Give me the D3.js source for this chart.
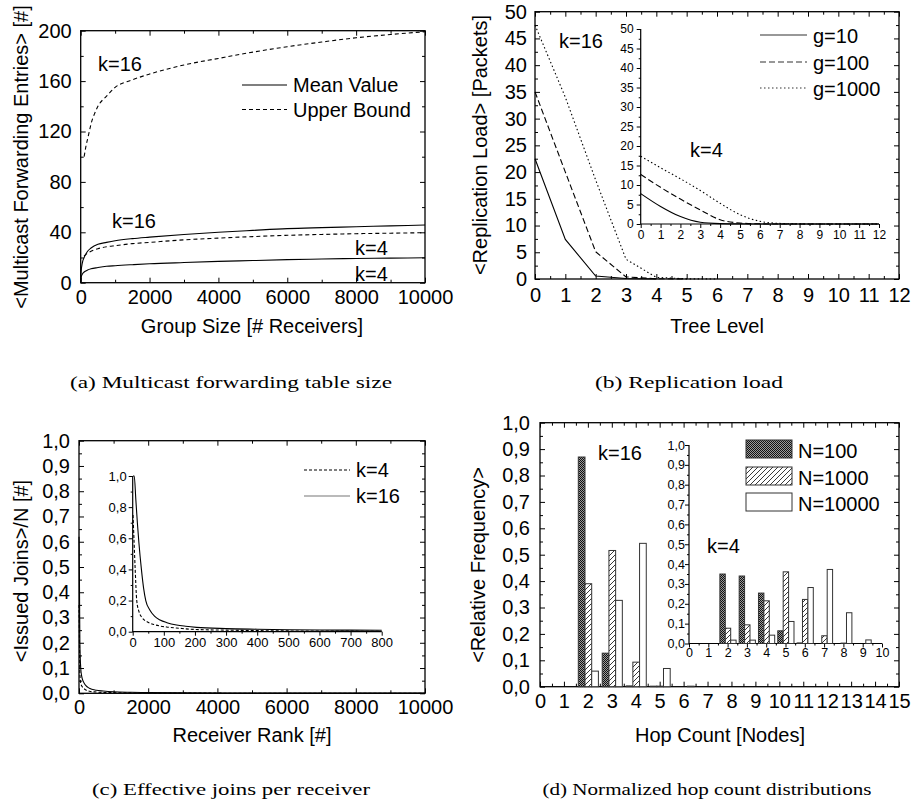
<html>
<head>
<meta charset="utf-8">
<script src="https://d3js.org/d3.v7.min.js"></script>
<style>
body { margin: 0; background: #fff; }
text { font-family: "Liberation Sans", Arial, sans-serif; fill: #000; }
.cap { font-family: "Liberation Serif", "Times New Roman", serif; }
</style>
</head>
<body>
<svg id="fig" width="913" height="804"></svg>
<script>
// ---- (a) multicast forwarding table size ----
var groupSize = [1, 10, 50, 100, 200, 300, 500, 750, 1000, 1500, 2000, 3000, 4000, 5000, 6000, 7000, 8000, 9000, 10000];
var meanK16 = [1, 8, 16, 20, 25, 27.5, 30.5, 32, 33.3, 35, 36.2, 38.3, 40, 41.5, 42.9, 43.7, 44.4, 45.1, 45.8];
var meanK4 = [0.5, 4, 7, 8.5, 10, 11, 12, 13, 13.5, 14.3, 15, 16, 16.9, 17.6, 18.3, 18.8, 19.2, 19.5, 19.8];
var boundSizeK16 = [100, 150, 200, 250, 300, 400, 500, 750, 1000, 1500, 2000, 3000, 4000, 5000, 6000, 7000, 8000, 9000, 10000];
var boundK16 = [100, 108, 114, 120, 126, 134, 140, 148, 155, 161, 165.6, 172.8, 178, 183, 187.3, 191, 194.4, 197, 199.2];
var boundSizeK4 = [100, 150, 200, 300, 500, 750, 1000, 1500, 2000, 3000, 4000, 5000, 6000, 7000, 8000, 9000, 10000];
var boundK4 = [21, 22.5, 23.5, 25, 27, 28.5, 29.4, 31, 32, 34, 35.4, 36.6, 37.6, 38.3, 38.9, 39.3, 39.7];

// ---- (b) replication load ----
var treeLevel = [0, 1, 2, 3, 4, 5, 6, 7, 8, 9, 10, 11, 12];
var loadG10 = [22.5, 7.4, 0.56, 0.1, 0.02];
var loadG100 = [35, 20, 5.1, 0.4, 0.05, 0.01];
var loadG1000 = [47.5, 34, 18.5, 3.7, 0.3, 0.03, 0.01];
var insetG10 = [7.8, 4.5, 1.9, 0.45, 0.1, 0.02, 0, 0, 0, 0, 0, 0, 0];
var insetG100 = [12.7, 9.4, 6.4, 3.6, 1.1, 0.25, 0.05, 0, 0, 0, 0, 0, 0];
var insetG1000 = [17.4, 14.4, 11.6, 8.6, 5.3, 2.4, 0.7, 0.15, 0.03, 0, 0, 0, 0];

// ---- (c) effective joins per receiver ----
var rankMain = [1, 10, 25, 50, 75, 100, 150, 200, 300, 500, 700, 1000, 1500, 2000, 3000, 5000, 7000, 10000];
var joinsK16 = [0.62, 0.5, 0.2, 0.1, 0.07, 0.055, 0.04, 0.03, 0.02, 0.012, 0.009, 0.006, 0.004, 0.003, 0.002, 0.001, 0.0008, 0.0005];
var joinsK4 = [0.35, 0.25, 0.08, 0.04, 0.03, 0.025, 0.018, 0.013, 0.008, 0.005, 0.0035, 0.0025, 0.0015, 0.001, 0.0007, 0.0004, 0.0003, 0.0002];
var rankInK16 = [1, 5, 10, 15, 20, 28, 35, 42, 55, 70, 88, 110, 141, 170, 205, 300, 400, 500, 600, 700, 800];
var insetK16 = [1.0, 1.0, 0.85, 0.7, 0.57, 0.4, 0.28, 0.2, 0.14, 0.1, 0.075, 0.058, 0.043, 0.035, 0.028, 0.02, 0.016, 0.013, 0.011, 0.01, 0.009];
var rankInK4 = [1, 4, 8, 13, 20, 30, 45, 70, 109, 150, 195, 300, 400, 500, 600, 700, 800];
var insetK4 = [0.75, 0.6, 0.4, 0.2, 0.13, 0.09, 0.065, 0.045, 0.03, 0.022, 0.015, 0.01, 0.007, 0.005, 0.004, 0.0035, 0.003];

// ---- (d) hop count distributions ----
var hopsMain = [2, 3, 4, 5, 6];
var n100Main = [0.87, 0.127, 0.003, 0.002, 0];
var n1000Main = [0.39, 0.516, 0.093, 0.002, 0];
var n10000Main = [0.059, 0.327, 0.543, 0.069, 0.002];
var hopsInset = [2, 3, 4, 5, 6, 7, 8, 9];
var n100Inset = [0.35, 0.34, 0.254, 0.064, 0.003, 0, 0, 0];
var n1000Inset = [0.077, 0.094, 0.215, 0.361, 0.222, 0.039, 0.002, 0];
var n10000Inset = [0.017, 0.017, 0.042, 0.111, 0.282, 0.373, 0.155, 0.018];
var seriesNames = ["N=100", "N=1000", "N=10000"];

var svg = d3.select("#fig");
svg.append("rect").attr("width", 913).attr("height", 804).attr("fill", "#fff");

var intFmt = d3.format("d");
var commaFmt = function(d) { return d3.format(".1f")(d).replace(".", ","); };
function steps(a, b, s) { var r = []; for (var i = 0; a + i * s <= b + 1e-9; i++) r.push(+(a + i * s).toFixed(4)); return r; }

var defs = svg.append("defs");
var pd = defs.append("pattern").attr("id", "dots").attr("width", 2).attr("height", 2).attr("patternUnits", "userSpaceOnUse");
pd.append("rect").attr("width", 2).attr("height", 2).attr("fill", "#9a9a9a");
pd.append("rect").attr("width", 1).attr("height", 1).attr("fill", "#111");
pd.append("rect").attr("x", 1).attr("y", 1).attr("width", 1).attr("height", 1).attr("fill", "#111");
var ph = defs.append("pattern").attr("id", "hatch").attr("width", 5).attr("height", 5).attr("patternUnits", "userSpaceOnUse");
ph.append("rect").attr("width", 5).attr("height", 5).attr("fill", "#fff");
ph.append("path").attr("d", "M0,5L5,0M-1,1L1,-1M4,6L6,4").attr("stroke", "#222").attr("stroke-width", 0.9);
var fills = ["url(#dots)", "url(#hatch)", "#fff"];

function axes(x, y, o) {
  var g = svg.append("g");
  var X0 = x.range()[0], X1 = x.range()[1], Y0 = y.range()[0], Y1 = y.range()[1];
  var maj = o.inset ? 4 : -5, mnr = o.inset ? 2 : -3;
  function put(axis, tx, ty, keep) {
    var s = g.append("g").attr("transform", "translate(" + tx + "," + ty + ")").call(axis);
    s.select(".domain").remove();
    s.selectAll("line").attr("stroke", "#000").attr("stroke-width", 1);
    s.selectAll("text").attr("font-size", o.fs).attr("font-family", null).attr("fill", "#000");
    if (!keep) s.selectAll("text").remove();
  }
  put(d3.axisBottom(x).tickValues(o.xMin).tickSize(mnr).tickFormat(""), 0, Y0, false);
  put(d3.axisBottom(x).tickValues(o.xMaj).tickSize(maj).tickPadding(o.xp).tickFormat(o.xf), 0, Y0, true);
  put(d3.axisLeft(y).tickValues(o.yMin).tickSize(mnr).tickFormat(""), X0, 0, false);
  put(d3.axisLeft(y).tickValues(o.yMaj).tickSize(maj).tickPadding(o.yp).tickFormat(o.yf), X0, 0, true);
  if (!o.inset) {
    put(d3.axisTop(x).tickValues(o.xMin).tickSize(mnr).tickFormat(""), 0, Y1, false);
    put(d3.axisTop(x).tickValues(o.xMaj).tickSize(maj).tickFormat(""), 0, Y1, false);
    put(d3.axisRight(y).tickValues(o.yMin).tickSize(mnr).tickFormat(""), X1, 0, false);
    put(d3.axisRight(y).tickValues(o.yMaj).tickSize(maj).tickFormat(""), X1, 0, false);
    g.append("rect").attr("x", X0).attr("y", Y1).attr("width", X1 - X0).attr("height", Y0 - Y1)
      .attr("fill", "none").attr("stroke", "#000").attr("stroke-width", 1.3);
  } else {
    g.append("path").attr("d", "M" + X0 + "," + Y1 + "V" + Y0 + "H" + X1)
      .attr("fill", "none").attr("stroke", "#000").attr("stroke-width", 1.2);
  }
}

function drawLine(x, y, xs, ys, dash, curve, color) {
  svg.append("path").datum(ys.map(function(v, i) { return [xs[i], v]; }))
    .attr("fill", "none").attr("stroke", color || "#000").attr("stroke-width", 1.1)
    .attr("stroke-dasharray", dash || null)
    .attr("d", d3.line().x(function(d) { return x(d[0]); }).y(function(d) { return y(d[1]); }).curve(curve || d3.curveLinear));
}

function txt(x, y, t, fs, anchor, cls) {
  return svg.append("text").attr("x", x).attr("y", y).attr("font-size", fs)
    .attr("text-anchor", anchor || "start").attr("class", cls || null).text(t);
}
function ytitle(x, y, t) {
  svg.append("text").attr("transform", "translate(" + x + "," + y + ") rotate(-90)")
    .attr("text-anchor", "middle").attr("font-size", 20).text(t);
}
function legLine(x1, x2, y, dash, color) {
  svg.append("line").attr("x1", x1).attr("x2", x2).attr("y1", y).attr("y2", y)
    .attr("stroke", color || "#000").attr("stroke-width", 1.1).attr("stroke-dasharray", dash || null);
}
function caption(cx, y, t, w) {
  txt(cx, y, t, 17, "middle", "cap").attr("textLength", w).attr("lengthAdjust", "spacingAndGlyphs");
}

// ===== panel (a) =====
var xa = d3.scaleLinear().domain([0, 10000]).range([80.7, 425]);
var ya = d3.scaleLinear().domain([0, 200]).range([282.7, 30.7]);
axes(xa, ya, { xMaj: steps(0, 10000, 2000), xMin: steps(1000, 9000, 2000), yMaj: steps(0, 200, 40), yMin: steps(20, 180, 40),
  xf: intFmt, yf: intFmt, fs: 20, xp: 7, yp: 9 });
drawLine(xa, ya, boundSizeK16, boundK16, "4,3", d3.curveMonotoneX);
drawLine(xa, ya, boundSizeK4, boundK4, "4,3", d3.curveMonotoneX);
drawLine(xa, ya, groupSize, meanK16, null, d3.curveMonotoneX);
drawLine(xa, ya, groupSize, meanK4, null, d3.curveMonotoneX);
txt(98, 71, "k=16", 20);
txt(112, 228, "k=16", 20);
txt(355, 255, "k=4", 20);
txt(355, 281, "k=4", 20);
legLine(242, 287, 85);
txt(293, 92, "Mean Value", 20);
legLine(242, 287, 109.5, "4,3");
txt(293, 117, "Upper Bound", 20);
ytitle(28, 157, "<Multicast Forwarding Entries> [#]");
txt(252, 333, "Group Size [# Receivers]", 20, "middle");
caption(231, 388, "(a)  Multicast forwarding table size", 322);

// ===== panel (b) =====
var xb = d3.scaleLinear().domain([0, 12]).range([535, 899]);
var yb = d3.scaleLinear().domain([0, 50]).range([279, 11.7]);
axes(xb, yb, { xMaj: steps(0, 12, 1), xMin: steps(0.5, 11.5, 1), yMaj: steps(0, 50, 5), yMin: steps(2.5, 47.5, 5),
  xf: intFmt, yf: intFmt, fs: 20, xp: 9, yp: 8 });
drawLine(xb, yb, treeLevel, loadG10, null);
drawLine(xb, yb, treeLevel, loadG100, "6,3");
drawLine(xb, yb, treeLevel, loadG1000, "1.5,2.5");
var xbi = d3.scaleLinear().domain([0, 12]).range([640.7, 879]);
var ybi = d3.scaleLinear().domain([0, 50]).range([224, 29]);
axes(xbi, ybi, { inset: true, xMaj: steps(0, 12, 1), xMin: steps(0.5, 11.5, 1), yMaj: steps(0, 50, 5), yMin: steps(2.5, 47.5, 5),
  xf: intFmt, yf: intFmt, fs: 12, xp: 2, yp: 3 });
drawLine(xbi, ybi, treeLevel, insetG10, null, d3.curveMonotoneX);
drawLine(xbi, ybi, treeLevel, insetG100, "6,3", d3.curveMonotoneX);
drawLine(xbi, ybi, treeLevel, insetG1000, "1.5,2.5", d3.curveMonotoneX);
txt(559, 48, "k=16", 20);
txt(690, 157, "k=4", 20);
legLine(760, 807, 35, null, "#333");
txt(813, 43, "g=10", 20);
legLine(760, 807, 62, "6,3", "#333");
txt(813, 70, "g=100", 20);
legLine(760, 807, 88, "1.5,2.5", "#333");
txt(813, 96, "g=1000", 20);
ytitle(487, 145, "<Replication Load> [Packets]");
txt(717, 333, "Tree Level", 20, "middle");
caption(689, 388, "(b)  Replication load", 188);

// ===== panel (c) =====
var xc = d3.scaleLinear().domain([0, 10000]).range([79, 425]);
var yc = d3.scaleLinear().domain([0, 1]).range([693.3, 440.7]);
axes(xc, yc, { xMaj: steps(0, 10000, 2000), xMin: steps(1000, 9000, 2000), yMaj: steps(0, 1, 0.1), yMin: steps(0.05, 0.95, 0.1),
  xf: intFmt, yf: commaFmt, fs: 20, xp: 7, yp: 9 });
drawLine(xc, yc, rankMain, joinsK4, "3,2", d3.curveMonotoneX);
drawLine(xc, yc, rankMain, joinsK16, null, d3.curveMonotoneX);
var xci = d3.scaleLinear().domain([0, 800]).range([132.7, 381.7]);
var yci = d3.scaleLinear().domain([0, 1]).range([631.7, 476]);
axes(xci, yci, { inset: true, xMaj: steps(0, 800, 100), xMin: steps(50, 750, 100), yMaj: steps(0, 1, 0.2), yMin: steps(0.1, 0.9, 0.2),
  xf: intFmt, yf: commaFmt, fs: 13, xp: 2, yp: 2 });
drawLine(xci, yci, rankInK4, insetK4, "3,2", d3.curveMonotoneX);
drawLine(xci, yci, rankInK16, insetK16, null, d3.curveMonotoneX);
legLine(304, 350, 470, "3,2");
txt(356, 477, "k=4", 20);
legLine(304, 350, 496, null, "#777");
txt(356, 503, "k=16", 20);
ytitle(28, 571, "<Issued Joins>/N [#]");
txt(252, 742, "Receiver Rank [#]", 20, "middle");
caption(231, 795, "(c)  Effective joins per receiver", 278);

// ===== panel (d) =====
var xd = d3.scaleLinear().domain([0, 15]).range([540, 899]);
var yd = d3.scaleLinear().domain([0, 1]).range([686.7, 422.7]);
var xdi = d3.scaleLinear().domain([0, 10]).range([689, 882]);
var ydi = d3.scaleLinear().domain([0, 1]).range([643.5, 445]);
var barOff = [-0.4, -0.12, 0.16], barW = 0.28;

function bars(x, y, hops, series) {
  series.forEach(function(vals, s) {
    svg.append("g").selectAll("rect").data(hops.map(function(h, i) { return [h, vals[i]]; }).filter(function(d) { return d[1] > 0; }))
      .enter().append("rect")
      .attr("x", function(d) { return x(d[0] + barOff[s]); })
      .attr("width", function(d) { return x(d[0] + barOff[s] + barW) - x(d[0] + barOff[s]); })
      .attr("y", function(d) { return y(d[1]); })
      .attr("height", function(d) { return y(0) - y(d[1]); })
      .attr("fill", fills[s]).attr("stroke", "#333").attr("stroke-width", 1);
  });
}

axes(xd, yd, { xMaj: steps(0, 15, 1), xMin: steps(0.5, 14.5, 1), yMaj: steps(0, 1, 0.1), yMin: steps(0.05, 0.95, 0.1),
  xf: intFmt, yf: commaFmt, fs: 20, xp: 7, yp: 10 });
bars(xd, yd, hopsMain, [n100Main, n1000Main, n10000Main]);
axes(xdi, ydi, { inset: true, xMaj: steps(0, 10, 1), xMin: steps(0.5, 9.5, 1), yMaj: steps(0, 1, 0.1), yMin: steps(0.05, 0.95, 0.1),
  xf: intFmt, yf: commaFmt, fs: 12.5, xp: 1, yp: 0 });
bars(xdi, ydi, hopsInset, [n100Inset, n1000Inset, n10000Inset]);
txt(598, 460, "k=16", 20);
txt(707, 553, "k=4", 20);
seriesNames.forEach(function(n, s) {
  var yy = [440, 467, 493][s];
  svg.append("rect").attr("x", 746).attr("y", yy).attr("width", 46).attr("height", 18)
    .attr("fill", fills[s]).attr("stroke", "#333").attr("stroke-width", 1);
  txt(798, yy + 18, n, 20);
});
ytitle(485, 565, "<Relative Frequency>");
txt(720, 742, "Hop Count [Nodes]", 20, "middle");
caption(707, 795, "(d)  Normalized hop count distributions", 329);
</script>
</body>
</html>
